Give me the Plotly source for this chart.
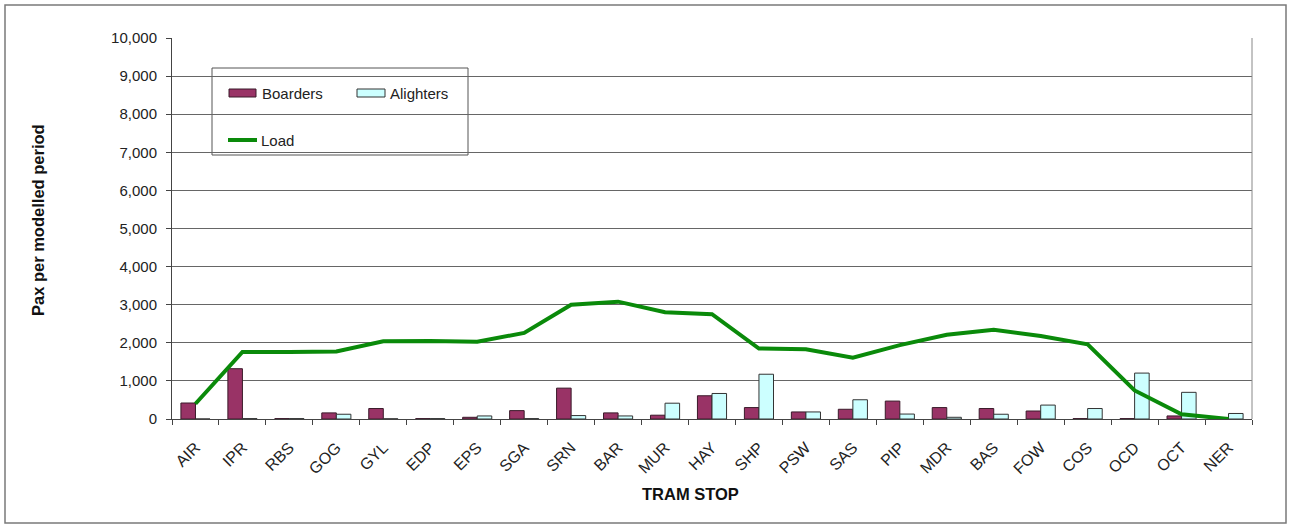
import plotly.graph_objects as go

# Tram stops along the line
stops = ["AIR", "IPR", "RBS", "GOG", "GYL", "EDP", "EPS", "SGA", "SRN", "BAR", "MUR", "HAY",
         "SHP", "PSW", "SAS", "PIP", "MDR", "BAS", "FOW", "COS", "OCD", "OCT", "NER"]

# Passengers per modelled period
boarders = [420, 1320, 10, 160, 275, 10, 45, 220, 810, 160, 100, 610,
            300, 185, 255, 470, 300, 275, 210, 10, 10, 80, 0]
alighters = [0, 10, 10, 125, 5, 10, 80, 10, 90, 80, 415, 670,
             1175, 185, 505, 130, 45, 125, 365, 275, 1205, 700, 145]
load = [400, 1760, 1760, 1770, 2040, 2050, 2030, 2260, 3000, 3080, 2800, 2750,
        1850, 1830, 1610, 1940, 2210, 2340, 2180, 1960, 750, 125, 0]

y_ticks = list(range(0, 10001, 1000))

BOARD_COL, BOARD_EDGE = "#993366", "#3a1a2a"
ALIGHT_COL, ALIGHT_EDGE = "#ccffff", "#333333"
LOAD_COL = "#0a8a0a"

W, H = 1290, 525
ML, MR, MT, MB = 172, 38, 38, 106
PW, PH = W - ML - MR, H - MT - MB


def px_x(p):
    return (p - ML) / PW


def px_y(p):
    return (H - MB - p) / PH


FONT = "Liberation Sans, Arial, sans-serif"
TXT = "#222222"

fig = go.Figure()
fig.add_trace(go.Bar(
    x=stops, y=boarders, name="Boarders",
    marker=dict(color=BOARD_COL, line=dict(color=BOARD_EDGE, width=1)),
))
fig.add_trace(go.Bar(
    x=stops, y=alighters, name="Alighters",
    marker=dict(color=ALIGHT_COL, line=dict(color=ALIGHT_EDGE, width=1)),
))
fig.add_trace(go.Scatter(
    x=stops, y=load, name="Load", mode="lines",
    line=dict(color=LOAD_COL, width=4),
))


def rect(x0, y0, x1, y1, fill, edge, width=1, layer="above"):
    return dict(type="rect", xref="paper", yref="paper", layer=layer,
                x0=px_x(x0), x1=px_x(x1), y0=px_y(y1), y1=px_y(y0),
                fillcolor=fill, line=dict(color=edge, width=width))


shapes = [
    # legend frame
    rect(212, 68, 468, 155, "white", "#555555", layer="between"),
    # legend keys
    rect(229, 89, 256, 97, BOARD_COL, BOARD_EDGE),
    rect(357, 89, 385, 97, ALIGHT_COL, ALIGHT_EDGE),
    dict(type="line", xref="paper", yref="paper", layer="above",
         x0=px_x(228), x1=px_x(257), y0=px_y(140), y1=px_y(140),
         line=dict(color=LOAD_COL, width=4)),
    # outer chart frame
    rect(5, 5, 1286, 523, "rgba(0,0,0,0)", "#7a7a7a", width=1.5),
    # right border of the plot area
    dict(type="line", xref="paper", yref="paper", x0=1, x1=1, y0=0, y1=1,
         line=dict(color="#888888", width=1), layer="above"),
]


def label(text, x, y, size, bold=False, angle=0, anchor="left"):
    return dict(text=f"<b>{text}</b>" if bold else text,
                xref="paper", yref="paper", x=px_x(x), y=px_y(y),
                xanchor=anchor, yanchor="middle", showarrow=False, textangle=angle,
                font=dict(family=FONT, size=size, color=TXT if not bold else "#111111"))


annotations = [
    label("Boarders", 260, 93, 15),
    label("Alighters", 388, 93, 15),
    label("Load", 259, 140, 15),
    # axis titles
    label("TRAM STOP", 690, 494, 16.5, bold=True, anchor="center"),
    label("Pax per modelled period", 38, 220, 16.5, bold=True, angle=-90, anchor="center"),
]

fig.update_layout(
    width=W, height=H,
    margin=dict(l=ML, r=MR, t=MT, b=MB),
    paper_bgcolor="white", plot_bgcolor="white",
    font=dict(family=FONT, size=15, color=TXT),
    barmode="group", bargap=0.38, bargroupgap=0.0,
    showlegend=False,
    shapes=shapes,
    annotations=annotations,
    xaxis=dict(
        type="category", tickangle=-45, tickson="boundaries",
        ticks="outside", ticklen=5, tickcolor="#444444",
        showgrid=False, showline=True, linecolor="#444444", linewidth=1,
        tickfont=dict(family=FONT, size=16, color=TXT),
        ticklabelstandoff=12,
    ),
    yaxis=dict(
        range=[0, 10000], tickvals=y_ticks, tickformat=",",
        ticks="outside", ticklen=5, tickcolor="#444444",
        showgrid=True, gridcolor="#666666", gridwidth=1,
        showline=True, linecolor="#444444", linewidth=1,
        tickfont=dict(family=FONT, size=15, color=TXT),
        ticklabelstandoff=6,
        zeroline=False,
    ),
)

fig.write_html("out.html")
